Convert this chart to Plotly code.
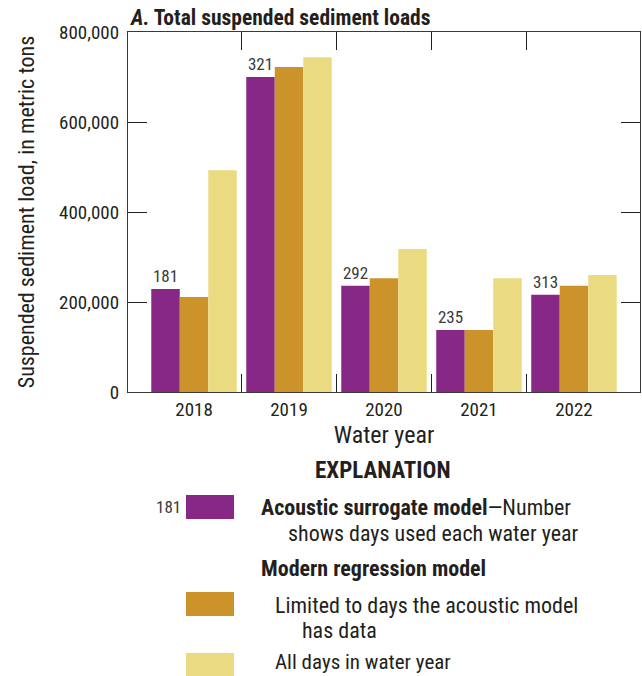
import plotly.graph_objects as go

years = ["2018", "2019", "2020", "2021", "2022"]
acoustic = [229000, 700000, 236000, 138000, 216000]
limited = [211000, 722000, 253000, 138000, 236000]
all_days = [493000, 744000, 318000, 253000, 260000]
acoustic_days = ["181", "321", "292", "235", "313"]

PURPLE = "#872886"
ORANGE = "#cb9329"
YELLOW = "#ebdb80"
TXT = "#231f20"
FONT = "Liberation Sans Narrow, Arial Narrow, Roboto Condensed, DejaVu Sans Condensed, sans-serif"

W, H = 642, 676
L, R, T, B = 128, 640, 32, 392


def px(x):
    return (x - L) / (R - L)


def py(y):
    return (B - y) / (B - T)


xpos = list(range(len(years)))

fig = go.Figure()
fig.add_bar(x=xpos, y=acoustic, marker_color=PURPLE, marker_line_width=0,
            text=acoustic_days, textposition="outside", cliponaxis=False,
            textfont=dict(size=17, color="#3a3a3a", family=FONT), name="Acoustic")
fig.add_bar(x=xpos, y=limited, marker_color=ORANGE, marker_line_width=0, name="Limited")
fig.add_bar(x=xpos, y=all_days, marker_color=YELLOW, marker_line_width=0, name="All days")

fig.update_layout(
    width=W, height=H,
    margin=dict(l=L, r=W - R, t=T, b=H - B, pad=0),
    paper_bgcolor="white", plot_bgcolor="white",
    barmode="group", bargap=0.1, bargroupgap=0,
    showlegend=False,
    font=dict(family=FONT, color=TXT, size=19),
)

fig.update_xaxes(
    range=[-0.695, 4.695],
    tickmode="array", tickvals=xpos, ticktext=years,
    ticks="", showgrid=False, zeroline=False,
    showline=True, linecolor="#3a3a3a", linewidth=1.2, mirror="ticks",
    tickfont=dict(size=19, color=TXT),
    minor=dict(tickmode="array", tickvals=[0.5, 1.5, 2.5, 3.5], ticks="inside",
               ticklen=18, tickwidth=1.3, tickcolor=TXT, showgrid=False),
    title=dict(text="Water year", font=dict(size=24, color=TXT), standoff=2),
)
fig.update_yaxes(
    range=[0, 800000], tickmode="array",
    tickvals=[0, 200000, 400000, 600000, 800000],
    tickformat=",d",
    ticks="inside", ticklen=19, tickwidth=1.3, tickcolor=TXT,
    showgrid=False, zeroline=False,
    showline=True, linecolor="#3a3a3a", linewidth=1.2, mirror="ticks",
    tickfont=dict(size=19, color=TXT),
    ticklabelstandoff=4,
    title=dict(text="Suspended sediment load, in metric tons", font=dict(size=22, color=TXT), standoff=18),
)

ann = []
ann.append(dict(x=px(128), y=py(18), xref="paper", yref="paper", xanchor="left", yanchor="middle",
                text="<b><i>A.</i> Total suspended sediment loads</b>", showarrow=False,
                font=dict(size=21.5, color=TXT)))
ann.append(dict(x=px(383), y=py(470), xref="paper", yref="paper", xanchor="center", yanchor="middle",
                text="<b>EXPLANATION</b>", showarrow=False, font=dict(size=23, color=TXT)))
ann.append(dict(x=px(183), y=py(507), xref="paper", yref="paper", xanchor="right", yanchor="middle",
                text="181", showarrow=False, font=dict(size=17, color="#3a3a3a")))
legend_text = [
    (260, 507, "<b>Acoustic surrogate model</b>—Number", 22),
    (287, 533, "shows days used each water year", 22),
    (260, 568, "<b>Modern regression model</b>", 22),
    (274, 605, "Limited to days the acoustic model", 22),
    (301, 630, "has data", 22),
    (274, 662, "All days in water year", 21),
]
for x, y, t, s in legend_text:
    ann.append(dict(x=px(x), y=py(y), xref="paper", yref="paper", xanchor="left", yanchor="middle",
                    text=t, showarrow=False, borderpad=0, font=dict(size=s, color=TXT)))
fig.update_layout(annotations=ann)

for y0, y1, c in [(495, 519, PURPLE), (592, 616, ORANGE), (653, 676, YELLOW)]:
    fig.add_shape(type="rect", xref="paper", yref="paper",
                  x0=px(186), x1=px(234), y0=py(y1), y1=py(y0),
                  fillcolor=c, line_width=0)

fig.write_html("out.html")
